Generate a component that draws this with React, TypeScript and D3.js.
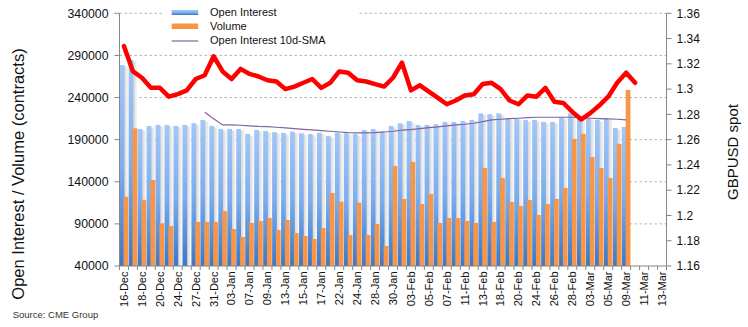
import React from "react";
import * as d3 from "d3";

const dates = [
  "16-Dec","17-Dec","18-Dec","19-Dec","20-Dec","23-Dec","24-Dec","26-Dec","27-Dec","30-Dec",
  "31-Dec","02-Jan","03-Jan","06-Jan","07-Jan","08-Jan","09-Jan","10-Jan","13-Jan","14-Jan",
  "15-Jan","16-Jan","17-Jan","21-Jan","22-Jan","23-Jan","24-Jan","27-Jan","28-Jan","29-Jan",
  "30-Jan","31-Jan","03-Feb","04-Feb","05-Feb","06-Feb","07-Feb","10-Feb","11-Feb","12-Feb",
  "13-Feb","14-Feb","18-Feb","19-Feb","20-Feb","21-Feb","24-Feb","25-Feb","26-Feb","27-Feb",
  "28-Feb","02-Mar","03-Mar","04-Mar","05-Mar","06-Mar","09-Mar","10-Mar","11-Mar","12-Mar",
  "13-Mar",
];

const openInterest = [
  278700, 284600, 202700, 206300, 207500, 207500, 206300, 207500, 209500, 213400,
  206300, 202700, 202700, 202700, 196800, 201500, 200300, 198800, 198000, 199500,
  197600, 196800, 198300, 194400, 198300, 197600, 196800, 201500, 202700, 200000,
  206300, 209500, 212200, 207500, 207500, 208300, 211000, 211000, 212200, 213400,
  221300, 220200, 221300, 215400, 214600, 213400, 213400, 211000, 211000, 216600,
  221300, 216600, 215400, 213400, 215400, 203900, 205100,
];

const volume: (number | null)[] = [
  122300, 203500, 118400, 142100, 90700, 87500, null, null, 92300, 92300,
  92300, 105300, 83900, 74400, 91100, 93400, 97000, 82800, 94600, 79200,
  75600, 72100, 85100, 126700, 116400, 76800, 115200, 76800, 89900, 63800,
  158800, 119600, 163500, 113600, 125500, 91100, 97000, 97000, 93400, 91100,
  156400, 92300, 144500, 116000, 111300, 118400, 100600, 113600, 119600, 132600,
  190800, 196800, 169400, 156400, 144500, 184900, 249000,
];

const oiSma: (number | null)[] = [
  null, null, null, null, null, null, null, null, null,
  222500, 214900, 207500, 207500, 207100, 206300, 205700, 205400, 204700, 203900,
  203100, 202300, 201500, 200700, 200000, 199100, 198300, 198000, 198000, 198300,
  199100, 200000, 201200, 201900, 203100, 204200, 205100, 206300, 207500, 208300,
  209500, 211400, 213400, 214200, 214900, 215400, 216100, 216600, 216600, 216600,
  216600, 216600, 216100, 215400, 214900, 214600, 214200, 213400,
];

const gbpusd = [
  1.334, 1.314, 1.309, 1.301, 1.301, 1.294, 1.296, 1.299, 1.308, 1.311,
  1.326, 1.314, 1.308, 1.316, 1.312, 1.310, 1.307, 1.306, 1.300, 1.302,
  1.305, 1.308, 1.301, 1.305, 1.314, 1.313, 1.307, 1.306, 1.304, 1.302,
  1.309, 1.321, 1.299, 1.303, 1.298, 1.293, 1.288, 1.291, 1.295, 1.296,
  1.304, 1.305, 1.300, 1.291, 1.288, 1.295, 1.294, 1.301, 1.290, 1.289,
  1.282, 1.276, 1.281, 1.287, 1.294, 1.305, 1.313, 1.305,
];

const leftTicks = [40000, 90000, 140000, 190000, 240000, 290000, 340000];
const rightTicks = [1.16, 1.18, 1.2, 1.22, 1.24, 1.26, 1.28, 1.3, 1.32, 1.34, 1.36];
const legendLabels = ["Open Interest", "Volume", "Open Interest 10d-SMA"];

const FONT = "'Liberation Sans', Arial, sans-serif";

export default function App() {
  const W = 748, H = 327;
  const L = 119.5, R = 666.5, T = 13.3, B = 266;
  const x = d3.scaleBand<string>().domain(dates).range([L, R]).padding(0);
  const bw = x.bandwidth();
  const yL = d3.scaleLinear().domain([40000, 340000]).range([B, T]);
  const yR = d3.scaleLinear().domain([1.16, 1.36]).range([B, T]);
  const cx = (i: number) => (x(dates[i]) as number) + bw / 2;

  const smaLine = d3
    .line<number | null>()
    .defined((d) => d != null)
    .x((_, i) => cx(i))
    .y((d) => yL(d as number));
  const spotLine = d3
    .line<number>()
    .x((_, i) => cx(i))
    .y((d) => yR(d));

  return (
    <svg
      width={W}
      height={H}
      style={{ position: "absolute", left: 0, top: 0, background: "#fff" }}
      fontFamily={FONT}
    >
      <defs>
        <linearGradient id="blueGrad" x1="0" y1="0" x2="0" y2="1">
          <stop offset="0" stopColor="#a3c7f7" />
          <stop offset="0.5" stopColor="#7eaeee" />
          <stop offset="1" stopColor="#3a78c9" />
        </linearGradient>
        <linearGradient id="shadowGrad" x1="0" y1="0" x2="1" y2="0">
          <stop offset="0" stopColor="#d4d4d4" />
          <stop offset="1" stopColor="#f6f6f6" />
        </linearGradient>
      </defs>

      {/* gridlines */}
      {leftTicks.slice(1).map((t) => (
        <line
          key={"g" + t}
          x1={L}
          x2={R}
          y1={yL(t)}
          y2={yL(t)}
          stroke="#b4b4b4"
          strokeWidth={1}
          strokeDasharray="2.5,2.5"
        />
      ))}

      {/* legend */}
      <rect x={163} y={0} width={195} height={47} fill="#fff" />
      <rect x={171.7} y={10} width={26.5} height={5} fill="url(#blueGrad)" />
      <rect x={171.7} y={23.5} width={26.5} height={5.5} fill="#f79646" />
      <line x1={171.7} x2={198.2} y1={41} y2={41} stroke="#8064a2" strokeWidth={1.2} />
      {legendLabels.map((l, i) => (
        <text key={l} x={210} y={12.5 + i * 13.8} dy="0.35em" fontSize={11} fill="#111">
          {l}
        </text>
      ))}

      {/* blue bar shadows */}
      {openInterest.map((v, i) => (
        <rect
          key={"s" + i}
          x={(x(dates[i]) as number) + bw * 0.5}
          y={yL(v) + 1.5}
          width={bw * 0.45}
          height={B - yL(v) - 1.5}
          fill="url(#shadowGrad)"
        />
      ))}
      {/* blue bars */}
      {openInterest.map((v, i) => (
        <rect
          key={"b" + i}
          x={(x(dates[i]) as number) + bw * 0.02}
          y={yL(v)}
          width={bw * 0.53}
          height={B - yL(v)}
          fill="url(#blueGrad)"
        />
      ))}
      {/* orange bars */}
      {volume.map((v, i) =>
        v == null ? null : (
          <rect
            key={"o" + i}
            x={(x(dates[i]) as number) + bw * 0.45}
            y={yL(v)}
            width={bw * 0.53}
            height={B - yL(v)}
            fill="#f79646"
          />
        )
      )}

      {/* SMA */}
      <path d={smaLine(oiSma) || ""} fill="none" stroke="#8064a2" strokeWidth={1.2} />
      {/* spot */}
      <path
        d={spotLine(gbpusd) || ""}
        fill="none"
        stroke="#ff0000"
        strokeWidth={4.5}
        strokeLinejoin="round"
        strokeLinecap="round"
      />

      {/* axes */}
      <line x1={L} x2={L} y1={T} y2={B} stroke="#868686" />
      <line x1={R} x2={R} y1={T} y2={B} stroke="#868686" />
      <line x1={L} x2={R} y1={B} y2={B} stroke="#868686" />
      {leftTicks.map((t) => (
        <g key={"lt" + t}>
          <line x1={L - 5} x2={L} y1={yL(t)} y2={yL(t)} stroke="#868686" />
          <text x={108.5} y={yL(t)} dy="0.35em" textAnchor="end" fontSize={12.3} fill="#111">
            {t}
          </text>
        </g>
      ))}
      {rightTicks.map((t) => (
        <g key={"rt" + t}>
          <line x1={R} x2={R + 5} y1={yR(t)} y2={yR(t)} stroke="#868686" />
          <text x={676.5} y={yR(t)} dy="0.35em" fontSize={12} fill="#111">
            {String(+t.toFixed(2))}
          </text>
        </g>
      ))}
      {dates.map((d, i) => (
        <line
          key={"xt" + i}
          x1={x(d) as number}
          x2={x(d) as number}
          y1={B}
          y2={B + 4}
          stroke="#868686"
        />
      ))}
      <line x1={R} x2={R} y1={B} y2={B + 4} stroke="#868686" />
      {dates.map((d, i) =>
        i % 2 === 0 ? (
          <text
            key={"xl" + i}
            transform={`translate(${cx(i)},${B + 5.5}) rotate(-90)`}
            dy="0.35em"
            textAnchor="end"
            fontSize={11}
            fill="#111"
          >
            {d}
          </text>
        ) : null
      )}

      {/* titles */}
      <text
        transform="translate(18.3,174) rotate(-90)"
        dy="0.35em"
        textAnchor="middle"
        fontSize={16.5}
        fill="#111"
      >
        Open Interest / Volume (contracts)
      </text>
      <text
        transform="translate(732.5,152) rotate(-90)"
        dy="0.35em"
        textAnchor="middle"
        fontSize={15}
        fill="#111"
      >
        GBPUSD spot
      </text>
      <text x={12.7} y={318} fontSize={9.5} fill="#333">
        Source: CME Group
      </text>
    </svg>
  );
}
